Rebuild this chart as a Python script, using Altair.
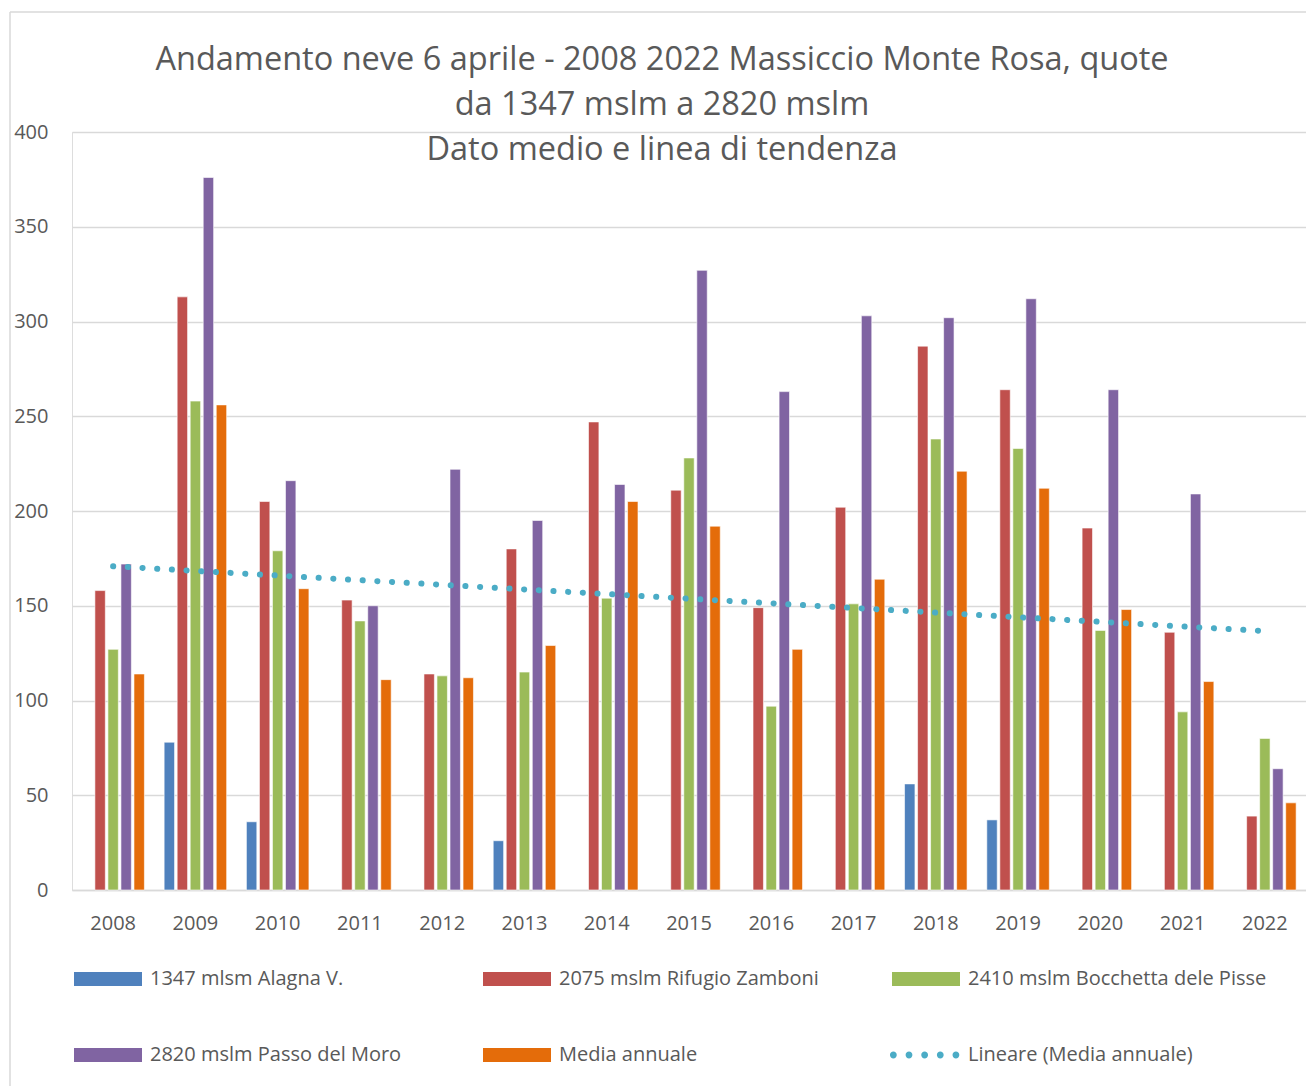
import altair as alt
import pandas as pd

years = [2008, 2009, 2010, 2011, 2012, 2013, 2014, 2015, 2016, 2017, 2018, 2019, 2020, 2021, 2022]

series_names = [
    "1347 mlsm Alagna V.",
    "2075 mslm Rifugio Zamboni",
    "2410 mslm Bocchetta dele Pisse",
    "2820 mslm Passo del Moro",
    "Media annuale",
]
trend_name = "Lineare (Media annuale)"

alagna = [None, 78, 36, None, None, 26, None, None, None, None, 56, 37, None, None, None]
zamboni = [158, 313, 205, 153, 114, 180, 247, 211, 149, 202, 287, 264, 191, 136, 39]
bocchetta = [127, 258, 179, 142, 113, 115, 154, 228, 97, 151, 238, 233, 137, 94, 80]
moro = [172, 376, 216, 150, 222, 195, 214, 327, 263, 303, 302, 312, 264, 209, 64]
media = [114, 256, 159, 111, 112, 129, 205, 192, 127, 164, 221, 212, 148, 110, 46]

colors = ["#4F81BD", "#C0504D", "#9BBB59", "#8064A2", "#E46C0A", "#4BACC6"]

rows = []
for name, vals in zip(series_names, [alagna, zamboni, bocchetta, moro, media]):
    for y, v in zip(years, vals):
        if v is not None:
            rows.append({"year": y, "series": name, "value": v})
df = pd.DataFrame(rows)

domain = series_names + [trend_name]
color_scale = alt.Scale(domain=domain, range=colors)

W, H = 1234, 758

rect_path = "M-1,-0.206H1V0.206H-1Z"
dot_r = 0.1
dots = "".join(
    f"M{cx - dot_r:.3f},0a{dot_r},{dot_r} 0 1,0 {2*dot_r:.3f},0a{dot_r},{dot_r} 0 1,0 {-2*dot_r:.3f},0"
    for cx in [-0.96, -0.5, -0.04, 0.42, 0.88]
)

legend = alt.Legend(
    title=None,
    orient="none",
    legendX=2,
    legendY=813,
    columns=3,
    direction="horizontal",
    gridAlign="all",
    columnPadding=31,
    rowPadding=32,
    symbolType=alt.ExprRef(expr=f"datum.value == '{trend_name}' ? '{dots}' : '{rect_path}'"),
    symbolSize=4624,
    symbolStrokeWidth=0,
    symbolOpacity=1,
    labelFontSize=20,
    labelColor="#595959",
    labelFont="Open Sans",
    labelOffset=8,
    labelLimit=600,
    padding=0,
)

x_enc = alt.X(
    "year:O",
    title=None,
    scale=alt.Scale(paddingInner=0.24, paddingOuter=0.12),
    axis=alt.Axis(
        labelAngle=0,
        labelFontSize=20,
        labelColor="#595959",
        labelFont="Open Sans",
        labelPadding=23,
        ticks=False,
        domainColor="#d9d9d9",
        domainWidth=1.5,
        grid=False,
    ),
)

bars = alt.Chart(df).mark_bar(stroke="white", strokeWidth=0.6).encode(
    x=x_enc,
    xOffset=alt.XOffset("series:N", scale=alt.Scale(domain=series_names, paddingInner=0.2)),
    y=alt.Y(
        "value:Q",
        title=None,
        scale=alt.Scale(domain=[0, 400], nice=False),
        axis=alt.Axis(
            values=[0, 50, 100, 150, 200, 250, 300, 350, 400],
            labelFontSize=20,
            labelColor="#595959",
            labelFont="Open Sans",
            labelPadding=24,
            ticks=False,
            domain=False,
            gridColor="#d9d9d9",
            gridWidth=1.3,
        ),
    ),
    color=alt.Color("series:N", scale=color_scale, legend=legend),
)

trend = (
    alt.Chart(df)
    .transform_filter(alt.datum.series == "Media annuale")
    .transform_regression("year", "value", method="linear")
    .transform_calculate(series=f"'{trend_name}'")
    .mark_line(strokeDash=[0.1, 14.6], strokeCap="round", strokeWidth=6)
    .encode(
        x=alt.X("year:O"),
        y=alt.Y("value:Q"),
        color=alt.Color("series:N", scale=color_scale, legend=legend),
    )
)

one = pd.DataFrame({"a": [0]})
border_left = alt.Chart(one).mark_rule(color="#d9d9d9", strokeWidth=1.5).encode(
    x=alt.value(-62), y=alt.value(-120), y2=alt.value(H + 200)
)
border_top = alt.Chart(one).mark_rule(color="#d9d9d9", strokeWidth=1.5).encode(
    y=alt.value(-120), x=alt.value(-62), x2=alt.value(W + 10)
)

chart = (
    alt.layer(border_left, border_top, bars, trend)
    .properties(
        width=W,
        height=H,
        padding={"left": 72, "top": 132, "right": 0, "bottom": 196},
        autosize=alt.AutoSizeParams(type="none"),
        title=alt.Title(
            text=[
                "Andamento neve 6 aprile - 2008 2022 Massiccio Monte Rosa, quote",
                "da 1347 mslm a 2820 mslm",
                "Dato medio e linea di tendenza",
            ],
            fontSize=32.5,
            font="Open Sans",
            fontWeight="normal",
            color="#595959",
            lineHeight=45,
            anchor="middle",
            offset=-155,
            dx=-27,
        ),
    )
    .configure_view(stroke=None)
    .configure(background="white")
)

chart.save("out.html", embed_options={"renderer": "svg", "actions": False})
